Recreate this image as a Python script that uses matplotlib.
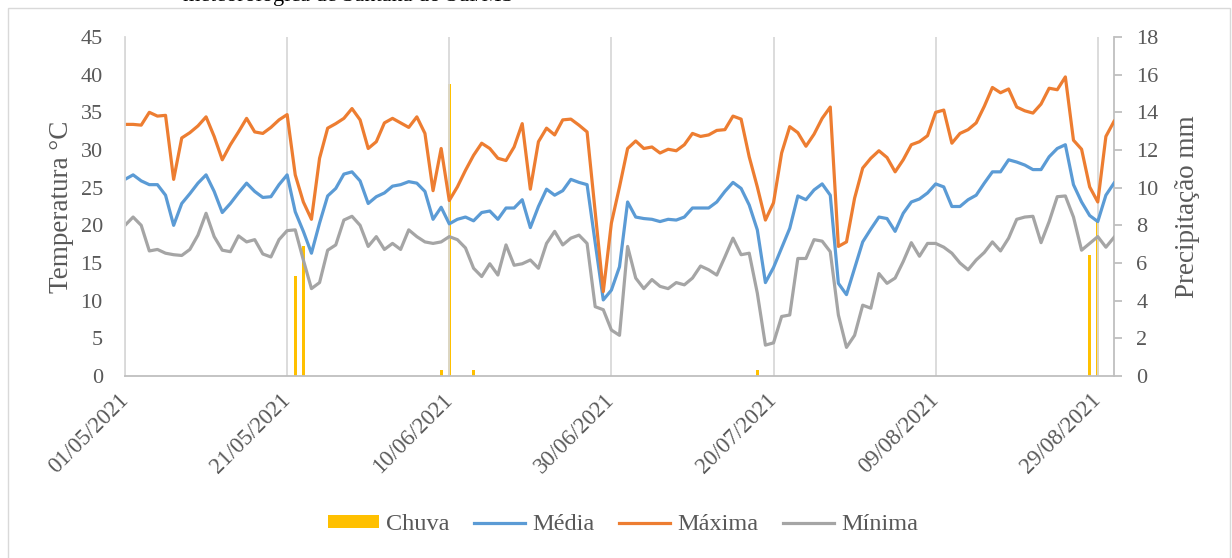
import pandas as pd
import matplotlib.pyplot as plt
import matplotlib.dates as mdates
from matplotlib.patches import Rectangle

# daily data 01/05/2021 - 31/08/2021
dates = pd.date_range('2021-05-01', '2021-08-31', freq='D')

maxima = [33.4, 33.4, 33.3, 35.0, 34.5, 34.6, 26.1, 31.6, 32.3, 33.2,
          34.4, 31.8, 28.7, 30.7, 32.4, 34.2, 32.4, 32.2, 33.0, 34.0,
          34.7, 26.7, 23.1, 20.8, 28.9, 32.9, 33.5, 34.2, 35.5, 34.0,
          30.2, 31.1, 33.6, 34.2, 33.6, 33.0, 34.4, 32.2, 24.6, 30.2,
          23.3, 25.1, 27.3, 29.3, 30.9, 30.2, 28.9, 28.6, 30.4, 33.5,
          24.8, 31.1, 32.9, 32.0, 34.0, 34.1, 33.3, 32.4, 21.8, 11.2,
          20.3, 25.1, 30.2, 31.2, 30.2, 30.4, 29.6, 30.1, 29.9, 30.7,
          32.2, 31.8, 32.0, 32.6, 32.7, 34.5, 34.1, 29.1, 25.1, 20.7,
          23.0, 29.6, 33.1, 32.3, 30.5, 32.1, 34.2, 35.7, 17.2, 17.8,
          23.6, 27.6, 28.9, 29.9, 29.0, 27.1, 28.7, 30.7, 31.1, 31.9,
          35.0, 35.3, 30.9, 32.2, 32.7, 33.6, 35.8, 38.3, 37.6, 38.1,
          35.7, 35.2, 34.9, 36.1, 38.2, 38.0, 39.7, 31.3, 30.1, 25.1,
          23.1, 31.8, 33.8]

media = [26.1, 26.7, 25.9, 25.4, 25.4, 24.0, 20.0, 22.9, 24.2, 25.6,
         26.7, 24.5, 21.7, 22.9, 24.3, 25.6, 24.5, 23.7, 23.8, 25.4,
         26.7, 21.8, 19.2, 16.3, 20.3, 23.9, 24.9, 26.8, 27.1, 25.9,
         22.9, 23.8, 24.3, 25.2, 25.4, 25.8, 25.6, 24.5, 20.8, 22.4,
         20.2, 20.8, 21.1, 20.6, 21.7, 21.9, 20.8, 22.3, 22.3, 23.4,
         19.7, 22.5, 24.8, 24.0, 24.6, 26.1, 25.7, 25.4, 17.7, 10.1,
         11.4, 14.5, 23.1, 21.1, 20.9, 20.8, 20.5, 20.8, 20.7, 21.1,
         22.3, 22.3, 22.3, 23.1, 24.5, 25.7, 24.9, 22.7, 19.4, 12.4,
         14.4, 17.0, 19.6, 23.9, 23.4, 24.7, 25.5, 24.0, 12.3, 10.8,
         14.3, 17.8, 19.5, 21.1, 20.9, 19.2, 21.6, 23.1, 23.5, 24.3,
         25.5, 25.1, 22.5, 22.5, 23.4, 24.0, 25.6, 27.1, 27.1, 28.7,
         28.4, 28.0, 27.4, 27.4, 29.1, 30.2, 30.7, 25.4, 23.1, 21.3,
         20.5, 24.0, 25.6]

minima = [20.0, 21.1, 20.0, 16.6, 16.8, 16.3, 16.1, 16.0, 16.8, 18.7,
          21.6, 18.5, 16.7, 16.5, 18.6, 17.8, 18.1, 16.2, 15.8, 18.1,
          19.3, 19.4, 15.4, 11.6, 12.4, 16.7, 17.4, 20.7, 21.2, 20.0,
          17.2, 18.5, 16.8, 17.6, 16.8, 19.4, 18.5, 17.8, 17.6, 17.8,
          18.5, 18.1, 17.0, 14.3, 13.2, 14.9, 13.4, 17.4, 14.7, 14.9,
          15.4, 14.3, 17.6, 19.2, 17.4, 18.3, 18.7, 17.6, 9.2, 8.8,
          6.1, 5.4, 17.2, 13.0, 11.6, 12.8, 11.9, 11.6, 12.4, 12.1,
          13.0, 14.6, 14.1, 13.4, 15.8, 18.3, 16.1, 16.3, 11.0, 4.1,
          4.4, 7.9, 8.1, 15.6, 15.6, 18.1, 17.9, 16.5, 8.1, 3.8,
          5.4, 9.4, 9.0, 13.6, 12.3, 13.0, 15.2, 17.7, 15.9, 17.6,
          17.6, 17.1, 16.3, 15.0, 14.1, 15.4, 16.4, 17.8, 16.6, 18.3,
          20.8, 21.1, 21.2, 17.7, 20.5, 23.8, 23.9, 21.1, 16.7, 17.6,
          18.5, 17.1, 18.4]

# rain days only (mm)
chuva_dias = ['2021-05-22', '2021-05-23', '2021-06-09', '2021-06-10',
              '2021-06-13', '2021-07-18', '2021-08-28', '2021-08-29']
chuva_mm = [5.3, 6.9, 0.3, 15.5, 0.3, 0.3, 6.4, 8.2]

tick_dates = dates[::20]

txt = '#595959'
plt.rcParams['font.family'] = 'Liberation Serif'

W, H = 1232, 558
fig = plt.figure(figsize=(W / 100, H / 100), dpi=100)

# outer chart frame
fig.patches.append(Rectangle((8 / W, -0.01), (1230 - 8) / W, (H - 8) / H + 0.01,
                             transform=fig.transFigure, fill=False,
                             edgecolor='#d9d9d9', lw=1))
# caption line above the chart, cut off by the page edge
fig.text(183 / W, 1 - 0.5 / H, 'meteorológica de Santana do Sul/MS',
         fontsize=16, color='black', va='baseline', ha='left')

ax = fig.add_axes([125 / W, (H - 376) / H, (1114 - 125) / W, (376 - 37) / H])
ax2 = ax.twinx()
ax.set_zorder(ax2.get_zorder() + 1)
ax.patch.set_visible(False)

bars = ax2.bar(pd.to_datetime(chuva_dias), chuva_mm, width=0.4,
               color='#FFC000', label='Chuva')
l_med, = ax.plot(dates, media, color='#5B9BD5', lw=2.3, label='Média')
l_max, = ax.plot(dates, maxima, color='#ED7D31', lw=2.3, label='Máxima')
l_min, = ax.plot(dates, minima, color='#A5A5A5', lw=2.3, label='Mínima')

ax.set_xlim(dates[0], dates[-1])
ax.set_ylim(0, 45)
ax.set_yticks(range(0, 46, 5))
ax2.set_ylim(0, 18)
ax2.set_yticks(range(0, 19, 2))

ax.set_xticks(tick_dates)
ax.xaxis.set_major_formatter(mdates.DateFormatter('%d/%m/%Y'))
ax.grid(axis='x', color='#d9d9d9', lw=1.3)
ax.grid(axis='y', visible=False)

for a in (ax, ax2):
    for s in a.spines.values():
        s.set_visible(False)
ax.spines['bottom'].set_visible(True)
ax.spines['bottom'].set_color('#bfbfbf')
ax.spines['bottom'].set_linewidth(1.3)
ax.spines['left'].set_visible(True)
ax.spines['left'].set_color('#d9d9d9')
ax.spines['left'].set_linewidth(1.3)
ax2.spines['right'].set_visible(True)
ax2.spines['right'].set_color('#bfbfbf')
ax2.spines['right'].set_linewidth(1.3)

ax.tick_params(axis='y', length=0, pad=16, labelsize=16, labelcolor=txt)
ax.tick_params(axis='x', length=0, pad=15, labelsize=16.5, labelcolor=txt)
ax2.tick_params(axis='y', length=6, width=1.3, color='#bfbfbf', direction='out',
                pad=10, labelsize=16, labelcolor=txt)
for lab in ax.get_xticklabels():
    lab.set_rotation(45)
    lab.set_ha('right')
    lab.set_va('center')
    lab.set_rotation_mode('anchor')

ax.set_ylabel('Temperatura °C', fontsize=19.5, color=txt, labelpad=5)
ax2.set_ylabel('Precipitação mm', fontsize=19.5, color=txt, labelpad=12)

fig.legend([bars, l_med, l_max, l_min], ['Chuva', 'Média', 'Máxima', 'Mínima'],
           loc='center', bbox_to_anchor=(623 / W, (H - 525) / H), ncol=4,
           frameon=False, fontsize=17.5, labelcolor=txt, handlelength=2.1,
           handleheight=0.45, handletextpad=0.3, columnspacing=1.0)

fig.savefig('out.png', dpi=100)
